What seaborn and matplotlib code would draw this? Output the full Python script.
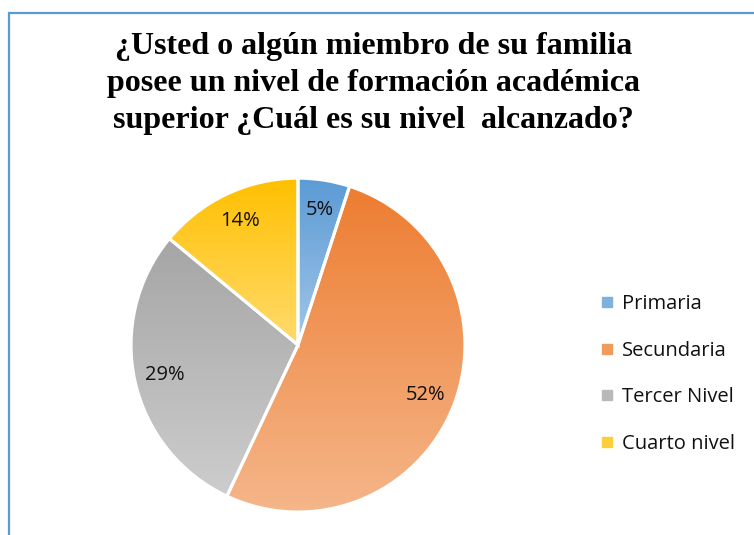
import numpy as np
import matplotlib
matplotlib.use("Agg")
import matplotlib.pyplot as plt
import seaborn as sns
from matplotlib.colors import to_rgb
from matplotlib.lines import Line2D
from matplotlib.patches import Rectangle

# ── Data ──────────────────────────────────────────────────────────────────
categories = ["Primaria", "Secundaria", "Tercer Nivel", "Cuarto nivel"]
values = [5, 52, 29, 14]
title = ("¿Usted o algún miembro de su familia\n"
         "posee un nivel de formación académica\n"
         "superior ¿Cuál es su nivel  alcanzado?")

# gradient (top, bottom) per slice, Excel-like
top_colors = ["#5B9BD5", "#ED7D31", "#A5A5A5", "#FFC000"]
bottom_colors = ["#A3C6E8", "#F5B68A", "#CDCDCD", "#FFDB6E"]

sns.set_theme(style="white")
plt.rcParams["font.family"] = ["Open Sans", "DejaVu Sans"]

fig = plt.figure(figsize=(7.54, 5.35), dpi=100)
ax = fig.add_axes([0.1737, 0.043, 0.443, 0.624])

wedges, texts, autotexts = ax.pie(
    values, startangle=90, counterclock=False,
    autopct="%1.0f%%", pctdistance=0.82,
    colors=top_colors,
    wedgeprops=dict(edgecolor="white", linewidth=2.2),
    textprops=dict(fontsize=14.5, color="#111111"),
)

# vertical gradient fill clipped to each wedge
for w, c0, c1 in zip(wedges, top_colors, bottom_colors):
    verts = w.get_path().vertices
    xmin, ymin = verts.min(axis=0)
    xmax, ymax = verts.max(axis=0)
    t = np.linspace(0, 1, 256)[:, None]
    grad = (1 - t) * np.array(to_rgb(c0)) + t * np.array(to_rgb(c1))
    img = np.repeat(grad[:, None, :], 2, axis=1)
    im = ax.imshow(img, extent=[xmin, xmax, ymin, ymax], origin="upper",
                   aspect="auto", interpolation="bilinear", zorder=w.get_zorder())
    im.set_clip_path(w)
    w.set_facecolor("none")
    w.set_zorder(w.get_zorder() + 0.1)
for t_ in autotexts:
    t_.set_zorder(5)
ax.set_xlim(-1.0, 1.0)
ax.set_ylim(-1.0, 1.0)
ax.set_aspect("equal")
ax.axis("off")

# legend
mid_colors = [tuple((np.array(to_rgb(a)) + np.array(to_rgb(b))) / 2)
              for a, b in zip(top_colors, bottom_colors)]
handles = [Line2D([], [], marker="s", linestyle="none", markersize=6.5,
                  markerfacecolor=c, markeredgecolor=c) for c in mid_colors]
fig.legend(handles, categories, loc="center left",
           bbox_to_anchor=(0.768, 0.301), frameon=False, fontsize=14.5,
           labelspacing=1.33, handletextpad=0.25, handlelength=1.0,
           labelcolor="#111111")

# title
fig.text(0.495, 0.94, title, ha="center", va="top", fontsize=23,
         fontweight="bold", family="Liberation Serif", linespacing=1.36,
         color="black")

# chart-area border (left and top visible)
fig.patches.append(Rectangle((9 / 754, -0.05), 1.2, 1.05 - 13 / 535,
                             transform=fig.transFigure, fill=False,
                             edgecolor="#5B9BD5", linewidth=1.6))

fig.savefig("out.png", dpi=100)
